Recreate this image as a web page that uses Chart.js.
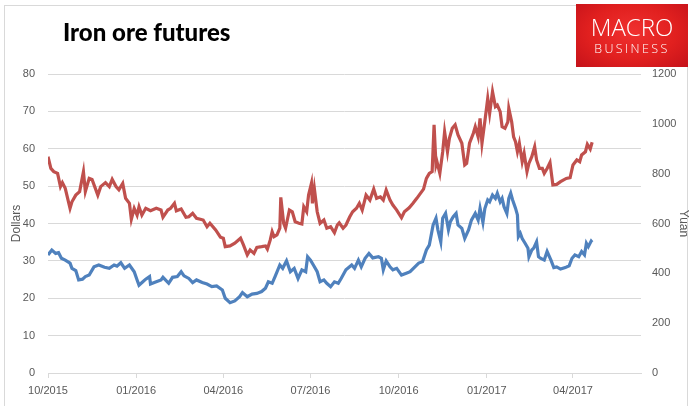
<!DOCTYPE html>
<html>
<head>
<meta charset="utf-8">
<script src="https://cdn.jsdelivr.net/npm/chart.js@4"></script>
<style>
    html, body { margin: 0; padding: 0; background: #fff; }
    #wrap { position: relative; width: 691px; height: 406px; overflow: hidden; }
    #frame { position: absolute; left: 4px; top: 5px; width: 684px; height: 406px; border: 1px solid #d9d9d9; box-sizing: border-box; }
    #title { position: absolute; left: 63px; top: 17px; font: 900 24px Lato, sans-serif; color: #000; }
    #logo {
        position: absolute; left: 576px; top: 4px; width: 112px; height: 63px;
        background: radial-gradient(ellipse at 50% 45%, #f0302f 0%, #e1201f 55%, #c4121a 100%);
        color: #fff; text-align: center; font-family: "Open Sans", sans-serif;
    }
    #logo .l1 { position: absolute; left: 0; right: 0; top: 11px; font-size: 24px; font-weight: 300; letter-spacing: 0px; line-height: 24px; }
    #logo .l2 { position: absolute; left: 0; right: 0; top: 38px; font-size: 12.5px; font-weight: 300; letter-spacing: 2.4px; line-height: 14px; }
    canvas { position: absolute; left: 0; top: 0; }
</style>
</head>
<body>
<div id="wrap">
    <div id="frame"></div>
    <canvas id="chart" width="691" height="406"></canvas>
    <div id="title">Iron ore futures</div>
    <div id="logo"><div class="l1">MACRO</div><div class="l2">BUSINESS</div></div>
</div>
<script>
// days counted from 1 Oct 2015
const tickDays = [0, 92, 183, 274, 366, 458, 548];
const tickLabels = ["10/2015", "01/2016", "04/2016", "07/2016", "10/2016", "01/2017", "04/2017"];

// Yuan series (right axis)
const yuanDays = [0, 3, 6, 10, 13, 15, 18, 23, 25, 29, 33, 37, 39, 43, 46, 52, 55, 60, 64, 67, 71, 74, 78, 81, 85, 87, 90, 93, 95, 98,
    102, 107, 113, 118, 120, 125, 128, 132, 134, 139, 144, 147, 151, 155, 159, 162, 166, 169, 175, 180, 183, 185, 190, 195, 201, 204, 208, 211, 215, 218,
    223, 227, 229, 232, 234, 236, 239, 242, 243, 246, 248, 252, 255, 258, 262, 265, 267, 270, 272, 275, 276, 278, 281, 284, 288, 291, 295, 299, 302, 304,
    308, 311, 315, 318, 322, 325, 328, 332, 336, 340, 343, 347, 350, 353, 357, 360, 364, 369, 372, 377, 381, 385, 388, 392, 395, 398, 401, 403, 405, 406,
    409, 412, 414, 417, 419, 422, 425, 428, 432, 435, 437, 440, 444, 446, 449, 451, 453, 456, 459, 461, 464, 467, 469, 472, 474, 477, 480, 481, 484, 486,
    488, 490, 492, 495, 497, 500, 502, 505, 508, 510, 513, 516, 518, 521, 524, 527, 531, 535, 541, 545, 548, 552, 555, 557, 561, 563, 566, 568];
const yuanValues = [868, 821, 808, 801, 748, 764, 741, 661, 687, 714, 728, 808, 728, 781, 777, 714, 748, 764, 748, 777, 748, 735, 761, 701, 681, 617, 661, 634, 667, 634,
    661, 651, 661, 654, 625, 654, 661, 681, 651, 658, 625, 627, 641, 621, 617, 614, 587, 601, 574, 545, 541, 507, 510, 521, 541, 514, 474, 494, 480, 504,
    507, 510, 497, 534, 567, 547, 554, 581, 705, 601, 581, 654, 647, 607, 601, 598, 667, 647, 714, 761, 681, 741, 647, 601, 614, 581, 587, 563, 594, 603,
    581, 594, 627, 647, 661, 681, 654, 714, 694, 738, 701, 707, 694, 734, 694, 674, 654, 623, 647, 663, 681, 701, 717, 738, 781, 801, 808, 996, 835, 848,
    801, 888, 968, 888, 942, 982, 996, 955, 922, 835, 841, 922, 962, 988, 948, 1022, 922, 1010, 1102, 1042, 1129, 1069, 1075, 1049, 988, 982, 1008, 1062, 1008, 948,
    928, 888, 922, 848, 882, 808, 841, 868, 908, 855, 821, 821, 801, 821, 845, 755, 757, 768, 781, 784, 835, 855, 848, 875, 888, 918, 899, 926];

// Dollar series (left axis)
const dollarDays = [0, 4, 8, 11, 14, 18, 23, 25, 29, 32, 36, 39, 43, 48, 53, 59, 64, 69, 72, 76, 80, 85, 90, 93, 95, 99, 102, 106, 107, 113,
    118, 120, 126, 130, 135, 139, 142, 147, 151, 155, 161, 166, 171, 176, 182, 185, 190, 195, 200, 203, 208, 213, 218, 223, 227, 230, 234, 237, 242, 245,
    249, 253, 257, 261, 265, 269, 271, 274, 277, 281, 284, 288, 291, 295, 299, 303, 306, 311, 317, 320, 324, 327, 331, 335, 339, 345, 348, 350, 353, 357,
    360, 364, 369, 374, 378, 383, 387, 391, 395, 398, 402, 405, 407, 410, 412, 415, 418, 420, 423, 426, 428, 432, 435, 439, 442, 446, 449, 451, 454, 456,
    459, 461, 464, 467, 469, 472, 474, 476, 479, 481, 483, 485, 488, 490, 491, 493, 495, 498, 501, 502, 505, 507, 510, 512, 514, 518, 521, 525, 528, 531,
    535, 540, 544, 547, 550, 554, 557, 560, 562, 564, 567, 568];
const dollarValues = [31.6, 32.9, 32.0, 32.2, 30.7, 30.2, 29.4, 28.0, 27.4, 24.9, 25.1, 25.8, 26.2, 28.4, 28.9, 28.3, 28.0, 28.9, 28.6, 29.5, 28.0, 28.9, 27.1, 24.9, 23.5, 24.4, 25.1, 25.8, 23.8, 24.4,
    24.9, 25.6, 24.0, 25.6, 25.8, 27.1, 26.0, 25.3, 24.2, 24.9, 24.2, 23.8, 23.1, 23.3, 22.2, 20.0, 18.8, 19.3, 20.4, 21.5, 20.4, 21.1, 21.3, 21.8, 22.7, 24.4, 24.0, 25.8, 28.9, 28.0,
    30.0, 27.1, 28.0, 25.3, 27.6, 27.1, 31.1, 30.2, 28.9, 27.1, 24.4, 24.9, 24.0, 23.1, 24.4, 24.0, 25.3, 27.6, 28.9, 28.0, 30.2, 28.4, 30.7, 32.0, 30.8, 31.1, 30.7, 27.6, 30.0, 28.4,
    27.6, 28.0, 26.2, 26.7, 27.1, 28.4, 29.4, 29.8, 32.9, 34.2, 39.6, 41.4, 38.3, 35.1, 41.4, 42.7, 38.3, 40.5, 41.8, 42.7, 39.6, 38.7, 36.0, 38.3, 40.9, 42.7, 40.9, 44.1, 40.3, 44.0,
    46.3, 45.8, 47.6, 46.7, 48.1, 45.8, 46.7, 44.5, 42.7, 46.7, 48.1, 46.3, 44.1, 42.3, 36.5, 37.4, 36.0, 34.7, 33.4, 31.1, 32.9, 33.4, 35.1, 31.1, 30.7, 30.2, 32.5, 30.2, 28.2, 28.4,
    27.8, 28.2, 28.7, 30.7, 31.6, 31.1, 32.5, 31.6, 34.7, 33.8, 35.3, 35.0];

const tickFont = { family: "'Liberation Sans', sans-serif", size: 11 };
const titleFont = { family: "'Liberation Sans', sans-serif", size: 12 };
const tickColor = "#595959";
const gridColor = "#d9d9d9";

window.addEventListener("load", () => {
    const ctx = document.getElementById("chart");

    new Chart(ctx, {
        type: "line",
        data: {
            datasets: [
                {
                    label: "Yuan",
                    data: yuanDays.map((d, i) => ({ x: d, y: yuanValues[i] })),
                    yAxisID: "y1",
                    borderColor: "#c0504d",
                    borderWidth: 3.2,
                    pointRadius: 0,
                    tension: 0
                },
                {
                    label: "Dollars",
                    data: dollarDays.map((d, i) => ({ x: d, y: dollarValues[i] })),
                    yAxisID: "y",
                    borderColor: "#4f81bd",
                    borderWidth: 3.2,
                    pointRadius: 0,
                    tension: 0
                }
            ]
        },
        options: {
            responsive: false,
            animation: false,
            layout: { padding: { top: 74, left: 0, right: 0, bottom: 0 } },
            plugins: { legend: { display: false }, tooltip: { enabled: false } },
            scales: {
                x: {
                    type: "linear",
                    min: 0,
                    max: 619,
                    afterBuildTicks: (scale) => { scale.ticks = tickDays.map(v => ({ value: v })); },
                    afterFit: (scale) => { scale.height = 33; },
                    ticks: {
                        autoSkip: false,
                        maxRotation: 0,
                        color: tickColor,
                        font: tickFont,
                        padding: 6,
                        callback: (v) => tickLabels[tickDays.indexOf(v)]
                    },
                    grid: { drawOnChartArea: false, drawTicks: true, tickLength: 5, color: gridColor },
                    border: { color: gridColor }
                },
                y: {
                    position: "left",
                    min: 0,
                    max: 80,
                    afterFit: (scale) => { scale.width = 48; },
                    ticks: { stepSize: 10, color: tickColor, font: tickFont, padding: 13 },
                    grid: { color: gridColor, drawTicks: false },
                    border: { display: false },
                    title: { display: true, text: "Dollars", color: tickColor, font: titleFont, padding: { top: 9, bottom: 0 } }
                },
                y1: {
                    position: "right",
                    min: 0,
                    max: 1200,
                    afterFit: (scale) => { scale.width = 50; },
                    ticks: { stepSize: 200, color: tickColor, font: tickFont, padding: 11, callback: (v) => String(v) },
                    grid: { drawOnChartArea: false, drawTicks: false },
                    border: { display: false },
                    title: { display: true, text: "Yuan", color: tickColor, font: titleFont, padding: { top: 0, bottom: 8 } }
                }
            }
        }
    });
});
</script>
</body>
</html>
